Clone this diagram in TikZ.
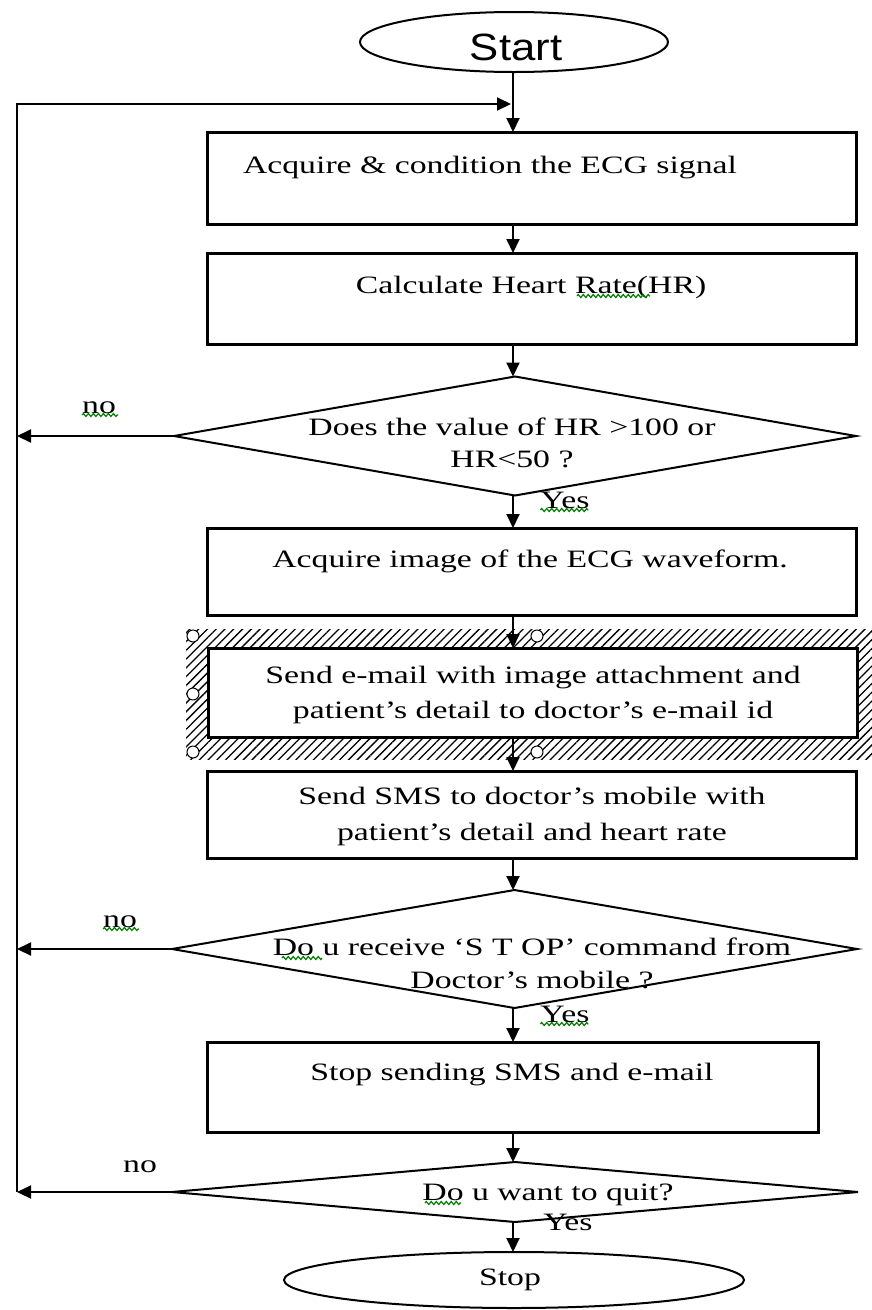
\documentclass[tikz,border=0pt]{standalone}
\usepackage{fontspec}
\setmainfont{Liberation Serif}[FakeStretch=1.35]
\newfontfamily\ovalfont{Liberation Sans}[FakeStretch=1.15]
\usetikzlibrary{shapes.geometric,arrows.meta,patterns.meta,decorations.pathmorphing}
\definecolor{squiggle}{RGB}{0,128,0}

\begin{document}
\begin{tikzpicture}[x=1pt,y=-1pt,
  every node/.style={inner sep=0pt, outer sep=0pt},
  stepbox/.style={draw, line width=3pt, fill=white, anchor=north west},
  decision/.style={draw, diamond, line width=2pt, fill=white},
  terminal/.style={draw, ellipse, line width=2pt, fill=white},
  flow/.style={line width=2pt, -{Triangle[length=14pt,width=13pt]}},
  txt/.style={align=center},
  tag/.style={font=\fontsize{25}{30}\selectfont, anchor=base},
  squig/.style={draw=squiggle, line width=1.2pt, decorate,
    decoration={zigzag, amplitude=1.5pt, segment length=5pt}},
  handle/.style={draw, fill=white, line width=1pt, circle, minimum size=12pt}
]
\useasboundingbox (0,0) rectangle (871,1310);
\fill[white] (0,0) rectangle (871,1310);

% column on which the main flow runs, and the return line on the left
\coordinate (axis) at (513,0);
\coordinate (loopx) at (17,0);
\coordinate (loopjoin) at (511,104);

% terminals
\node[terminal, minimum width=308pt, minimum height=60pt] (start) at (514,42) {};
\node[font=\ovalfont\fontsize{38}{40}\selectfont, anchor=base] (starttxt) at (516,60) {Start};

% process steps
\node[stepbox, minimum width=649pt, minimum height=92pt] (b1) at (207,132) {};
\node[font=\fontsize{25}{35}\selectfont, anchor=base] (b1txt) at (490,173) {Acquire \& condition the ECG signal};

\node[stepbox, minimum width=649pt, minimum height=91pt] (b2) at (207,253) {};
\node[font=\fontsize{25}{35}\selectfont, anchor=base] (b2txt) at (531,293) {Calculate Heart Rate(HR)};

% first decision
\node[decision, minimum width=682pt, minimum height=119pt] (d1) at (515,436) {};
\node[txt, font=\fontsize{25}{32}\selectfont] (d1txt) at (512,443) {Does the value of HR >100 or\\HR<50 ?};

\node[stepbox, minimum width=649pt, minimum height=87pt] (b3) at (207,528) {};
\node[font=\fontsize{25}{35}\selectfont, anchor=base] (b3txt) at (530,567) {Acquire image of the ECG waveform.};

% selection frame around the e-mail step
\path[pattern={Lines[angle=45,distance=6.2pt,line width=1.3pt]}] (186,629) rectangle (880,759);
\node[stepbox, minimum width=649pt, minimum height=89pt] (b4) at (208,648) {};
\node[txt, font=\fontsize{25}{35}\selectfont] (b4txt) at (533,695) {Send e-mail with image attachment and\\patient’s detail to doctor’s e-mail id};
\node[handle] (h1) at (193,636) {};
\node[handle] (h2) at (537,636) {};
\node[handle] (h3) at (193,694) {};
\node[handle] (h4) at (193,752) {};
\node[handle] (h5) at (537,752) {};

\node[stepbox, minimum width=649pt, minimum height=87pt] (b5) at (207,771) {};
\node[txt, font=\fontsize{25}{36}\selectfont] (b5txt) at (532,816) {Send SMS to doctor’s mobile with\\patient’s detail and heart rate};

% second decision
\node[decision, minimum width=685pt, minimum height=118pt] (d2) at (514.5,949) {};
\node[txt, font=\fontsize{25}{33}\selectfont] (d2txt) at (532,963) {Do u receive ‘S T OP’ command from\\Doctor’s mobile ?};

\node[stepbox, minimum width=611pt, minimum height=90pt] (b6) at (207,1042) {};
\node[font=\fontsize{25}{35}\selectfont, anchor=base] (b6txt) at (512,1080) {Stop sending SMS and e-mail};

% third decision
\node[decision, minimum width=686pt, minimum height=60pt] (d3) at (515,1192) {};
\node[font=\fontsize{25}{35}\selectfont, anchor=base] (d3txt) at (548,1200) {Do u want to quit?};

\node[terminal, minimum width=460pt, minimum height=56pt] (stop) at (514,1280) {};
\node[font=\fontsize{25}{30}\selectfont] (stoptxt) at (510,1280) {Stop};

% branch labels
\node[tag] (no1) at (99,413) {no};
\node[tag] (no2) at (120,927) {no};
\node[tag] (no3) at (140,1172) {no};
\node[tag] (yes1) at (565,508) {Yes};
\node[tag] (yes2) at (565,1022) {Yes};
\node[tag] (yes3) at (568,1230) {Yes};

% spelling marks
\draw[squig] (no1.base west) ++(0,2) -- ++(36,0);
\draw[squig] (no2.base west) ++(0,2) -- ++(36,0);
\draw[squig] (yes1.base west) ++(0,2) -- ++(48,0);
\draw[squig] (yes2.base west) ++(0,2) -- ++(48,0);
\draw[squig] (577,296) -- (650,296);
\draw[squig] (282,958) -- (322,958);
\draw[squig] (425,1203) -- (461,1203);

% main flow
\draw[flow] (start.south -| axis) -- (b1.north -| axis);
\draw[flow] (b1.south -| axis) -- (b2.north -| axis);
\draw[flow] (b2.south -| axis) -- (d1.north -| axis);
\draw[flow] (d1.south -| axis) -- (b3.north -| axis);
\draw[flow] (b3.south -| axis) -- (b4.north -| axis);
\draw[flow] (b4.south -| axis) -- (b5.north -| axis);
\draw[flow] (b5.south -| axis) -- (d2.north -| axis);
\draw[flow] (d2.south -| axis) -- (b6.north -| axis);
\draw[flow] (b6.south -| axis) -- (d3.north -| axis);
\draw[flow] (d3.south -| axis) -- (stop.north -| axis);

% "no" branches back to the acquisition step
\draw[flow] (d1.west) -- (d1.west -| loopx);
\draw[flow] (d2.west) -- (d2.west -| loopx);
\draw[flow] (d3.west) -- (d3.west -| loopx);
\draw[flow] (d3.west -| loopx) -- (loopx |- loopjoin) -- (loopjoin);
\end{tikzpicture}
\end{document}
